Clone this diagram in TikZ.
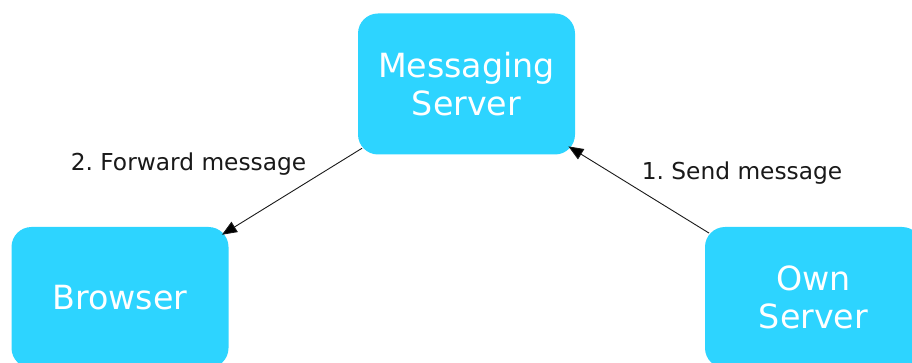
\documentclass[tikz,border=0pt]{standalone}
\usepackage{fontspec}
\setmainfont{DejaVu Sans}
\usetikzlibrary{arrows.meta}
\definecolor{boxcyan}{RGB}{45,212,255}
\definecolor{inkgray}{RGB}{25,25,25}
\frenchspacing
\tikzset{
  server/.style={draw=none, fill=boxcyan, rounded corners=20pt, minimum width=217pt,
    minimum height=141pt, text=white, align=center, inner sep=0pt,
    font=\fontsize{33.3}{38}\selectfont},
  flow/.style={draw=inkgray, line width=0.9pt, shorten <=-5pt, shorten >=-8pt,
    -{Triangle[length=15pt,width=12pt,fill=black]}},
  steplabel/.style={text=inkgray, font=\fontsize{23.3}{27}\selectfont, inner sep=0pt}
}
\begin{document}
\begin{tikzpicture}[x=1pt,y=1pt]
  \useasboundingbox (0,0) rectangle (912,-363);
  \node[server] (ms) at (466.5,-84) {Messaging\\Server};
  \node[server] (br) at (120,-297.5) {Browser};
  \node[server] (os) at (813.5,-297.5) {Own\\Server};
  \draw[flow] (ms) -- (br);
  \draw[flow] (os) -- (ms);
  \node[steplabel] (l2) at (188.5,-164) {2. Forward message};
  \node[steplabel] (l1) at (742,-173) {1. Send message};
\end{tikzpicture}
\end{document}
